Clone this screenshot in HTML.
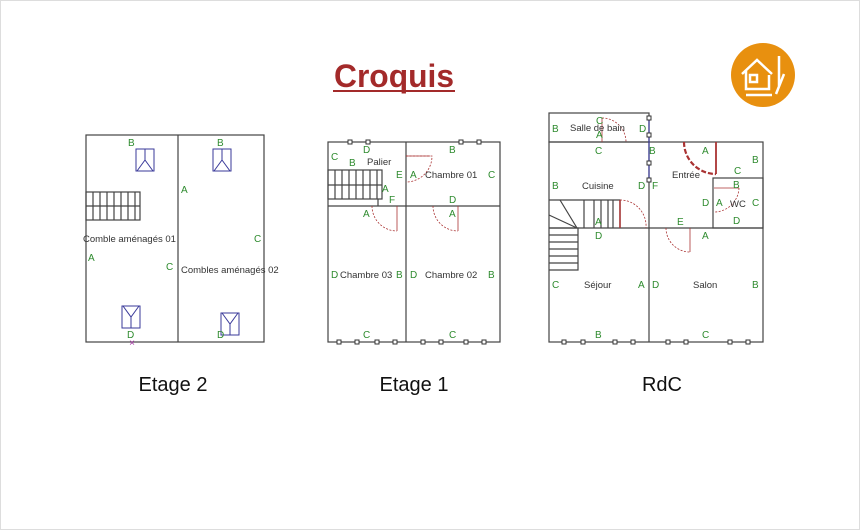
<!DOCTYPE html>
<html><head><meta charset="utf-8"><style>
body{margin:0;background:#fff;}
svg{display:block;font-family:"Liberation Sans",sans-serif;}
.w{fill:none;stroke:#444;stroke-width:1.2}
.g{fill:#2e8b2e;font-size:10px}
.k{fill:#333;font-size:9.5px}
.win{fill:none;stroke:#3a3a9a;stroke-width:1}
.sq{fill:#fff;stroke:#333;stroke-width:1}
.d{fill:none;stroke:#a33;stroke-width:0.8;stroke-dasharray:2,1.5}
</style></head><body>
<svg width="860" height="530" viewBox="0 0 860 530">
<rect x="0.5" y="0.5" width="859" height="529" fill="#fff" stroke="#ddd"/>
<text x="394" y="87" text-anchor="middle" font-size="32" font-weight="bold" fill="#a32a2a" textLength="120" lengthAdjust="spacingAndGlyphs">Croquis</text>
<line x1="333" y1="91" x2="455" y2="91" stroke="#a32a2a" stroke-width="2"/>
<circle cx="763" cy="75" r="32" fill="#e8900f"/>
<g stroke="#fff" stroke-width="2.5" fill="none">
<path d="M742 74 L757 60 L772 74 M746 71 V89 H769 V75"/><rect x="750" y="75" width="7" height="7"/>
<path d="M779 56 V86 M784 74 L776 94"/><path d="M746 95 H772"/></g>
<!-- Etage 2 -->
<rect class="w" x="86" y="135" width="178" height="207"/>
<line class="w" x1="178" y1="135" x2="178" y2="342"/>
<g class="w" stroke-width="0.8"><rect x="86" y="192" width="54" height="28"/><line x1="86" y1="206" x2="140" y2="206"/>
<path d="M93 192V220M100 192V220M107 192V220M114 192V220M121 192V220M128 192V220M135 192V220"/></g>
<g class="win"><rect x="136" y="149" width="18" height="22"/><path d="M145 149V160L137 171M145 160L153 171"/>
<rect x="213" y="149" width="18" height="22"/><path d="M222 149V160L214 171M222 160L230 171"/>
<rect x="122" y="306" width="18" height="22"/><path d="M123 306L131 317L139 306M131 317V328"/>
<rect x="221" y="313" width="18" height="22"/><path d="M222 313L230 324L238 313M230 324V335"/></g>
<text x="132" y="346" fill="#a030a0" font-size="10" text-anchor="middle">×</text>
<g class="g"><text x="128" y="146">B</text><text x="217" y="146">B</text><text x="181" y="193">A</text><text x="88" y="261">A</text><text x="166" y="270">C</text><text x="254" y="242">C</text><text x="127" y="338">D</text><text x="217" y="338">D</text></g>
<g class="k"><text x="83" y="242">Comble aménagés 01</text><text x="181" y="273">Combles aménagés 02</text></g>
<text x="173" y="391" text-anchor="middle" font-size="20" fill="#111">Etage 2</text>
<!-- Etage 1 -->
<rect class="w" x="328" y="142" width="172" height="200"/>
<line class="w" x1="328" y1="206" x2="500" y2="206"/><line class="w" x1="406" y1="142" x2="406" y2="342"/>
<g class="w" stroke-width="0.8"><rect x="328" y="170" width="54" height="29"/><line x1="328" y1="185" x2="382" y2="185"/>
<path d="M335 170V199M342 170V199M349 170V199M356 170V199M363 170V199M370 170V199M377 170V199"/><line x1="378" y1="199" x2="378" y2="206"/></g>
<path class="d" d="M406 156 H432 A26 26 0 0 1 406 182"/><line x1="406" y1="156" x2="430" y2="156" stroke="#a33" stroke-width="0.8"/>
<path class="d" d="M372 206 A25 25 0 0 0 397 231"/><line x1="397" y1="206" x2="397" y2="231" stroke="#a33" stroke-width="0.8"/>
<path class="d" d="M433 206 A25 25 0 0 0 458 231"/><line x1="458" y1="206" x2="458" y2="231" stroke="#a33" stroke-width="0.8"/>
<g class="sq"><rect x="348" y="140" width="4" height="4"/><rect x="366" y="140" width="4" height="4"/><rect x="459" y="140" width="4" height="4"/><rect x="477" y="140" width="4" height="4"/>
<rect x="337" y="340" width="4" height="4"/><rect x="355" y="340" width="4" height="4"/><rect x="375" y="340" width="4" height="4"/><rect x="393" y="340" width="4" height="4"/><rect x="421" y="340" width="4" height="4"/><rect x="439" y="340" width="4" height="4"/><rect x="464" y="340" width="4" height="4"/><rect x="482" y="340" width="4" height="4"/></g>
<g class="g"><text x="363" y="153">D</text><text x="331" y="160">C</text><text x="349" y="166">B</text><text x="396" y="178">E</text><text x="410" y="178">A</text><text x="449" y="153">B</text><text x="488" y="178">C</text><text x="382" y="192">A</text><text x="389" y="203">F</text><text x="449" y="203">D</text><text x="363" y="217">A</text><text x="449" y="217">A</text><text x="331" y="278">D</text><text x="396" y="278">B</text><text x="410" y="278">D</text><text x="488" y="278">B</text><text x="363" y="338">C</text><text x="449" y="338">C</text></g>
<g class="k"><text x="367" y="165">Palier</text><text x="425" y="178">Chambre 01</text><text x="340" y="278">Chambre 03</text><text x="425" y="278">Chambre 02</text></g>
<text x="414" y="391" text-anchor="middle" font-size="20" fill="#111">Etage 1</text>
<!-- RdC -->
<rect class="w" x="549" y="142" width="214" height="200"/>
<rect class="w" x="549" y="113" width="100" height="29"/>
<line class="w" x1="649" y1="142" x2="649" y2="342"/><line class="w" x1="549" y1="228" x2="763" y2="228"/>
<rect class="w" x="713" y="178" width="50" height="50"/>
<g class="w" stroke-width="0.8"><path d="M549 200 H620 V228 M594 200V228M601 200V228M608 200V228M613 200V228M584 200V228"/>
<path d="M549 215 L577 228 M560 200 L577 228 M549 228 H578 V270 H549 M549 235H578M549 242H578M549 249H578M549 256H578M549 263H578"/></g>
<line x1="620" y1="200" x2="620" y2="228" stroke="#a33" stroke-width="1.5"/>
<path class="d" d="M620 200 A26 26 0 0 1 646 228"/>
<path class="d" d="M602 118 A24 24 0 0 1 626 142"/><line x1="602" y1="118" x2="602" y2="142" stroke="#a33" stroke-width="0.8"/>
<path d="M684 142 A32 32 0 0 0 716 174" fill="none" stroke="#a33" stroke-width="2.2" stroke-dasharray="5,2"/><line x1="716" y1="142" x2="716" y2="174" stroke="#a33" stroke-width="1.8"/>
<path class="d" d="M666 228 A24 24 0 0 0 690 252"/><line x1="690" y1="228" x2="690" y2="252" stroke="#a33" stroke-width="0.8"/>
<path class="d" d="M739 188 A25 25 0 0 1 714 212"/><line x1="714" y1="188" x2="739" y2="188" stroke="#a33" stroke-width="0.8"/>
<line x1="649" y1="118" x2="649" y2="180" stroke="#3a3a9a" stroke-width="1.2"/>
<g class="sq"><rect x="647" y="116" width="4" height="4"/><rect x="647" y="133" width="4" height="4"/><rect x="647" y="161" width="4" height="4"/><rect x="647" y="178" width="4" height="4"/>
<rect x="562" y="340" width="4" height="4"/><rect x="581" y="340" width="4" height="4"/><rect x="613" y="340" width="4" height="4"/><rect x="631" y="340" width="4" height="4"/><rect x="666" y="340" width="4" height="4"/><rect x="684" y="340" width="4" height="4"/><rect x="728" y="340" width="4" height="4"/><rect x="746" y="340" width="4" height="4"/></g>
<g class="g"><text x="552" y="132">B</text><text x="596" y="124">C</text><text x="596" y="138">A</text><text x="639" y="132">D</text><text x="595" y="154">C</text><text x="649" y="154">B</text><text x="702" y="154">A</text><text x="752" y="163">B</text><text x="734" y="174">C</text><text x="552" y="189">B</text><text x="638" y="189">D</text><text x="652" y="189">F</text><text x="733" y="188">B</text><text x="702" y="206">D</text><text x="716" y="206">A</text><text x="752" y="206">C</text><text x="733" y="224">D</text><text x="595" y="225">A</text><text x="595" y="239">D</text><text x="677" y="225">E</text><text x="702" y="239">A</text><text x="552" y="288">C</text><text x="638" y="288">A</text><text x="652" y="288">D</text><text x="752" y="288">B</text><text x="595" y="338">B</text><text x="702" y="338">C</text></g>
<g class="k"><text x="570" y="131">Salle de bain</text><text x="582" y="189">Cuisine</text><text x="672" y="178">Entrée</text><text x="730" y="207">WC</text><text x="584" y="288">Séjour</text><text x="693" y="288">Salon</text></g>
<text x="662" y="391" text-anchor="middle" font-size="20" fill="#111">RdC</text>
</svg>
</body></html>
